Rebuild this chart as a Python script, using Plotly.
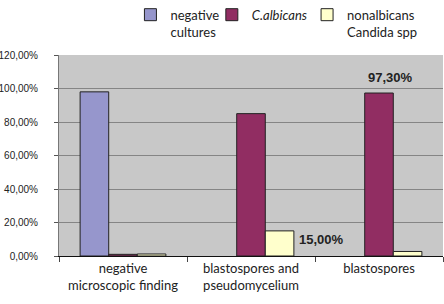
import plotly.graph_objects as go

categories = ["negative<br>microscopic finding", "blastospores and<br>pseudomycelium", "blastospores"]
negative_cultures = [98.0, None, None]
c_albicans = [1.0, 85.0, 97.3]
nonalbicans = [1.2, 15.0, 2.7]
series_names = ["negative<br>cultures", "<i>C.albicans</i>", "nonalbicans<br>Candida spp"]
tick_vals = [0, 20, 40, 60, 80, 100, 120]
tick_text = ["0,00%", "20,00%", "40,00%", "60,00%", "80,00%", "100,00%", "120,00%"]

colors = ["#9696cc", "#912d62", "#ffffcc"]
line = dict(color="#222222", width=1)
legend_ids = ["legend", "legend2", "legend3"]
legend_x = [0.186, 0.398, 0.646]

fig = go.Figure()
for name, vals, col, lid in zip(series_names, [negative_cultures, c_albicans, nonalbicans], colors, legend_ids):
    fig.add_trace(go.Bar(x=categories, y=vals, name=name, legend=lid,
                         marker=dict(color=col, line=line)))

fig.add_annotation(x=categories[2], y=c_albicans[2], text="<b>97,30%</b>", showarrow=False,
                   xshift=11, yshift=16, yanchor="middle",
                   font=dict(family="Liberation Sans", size=13, color="#222222"))
fig.add_annotation(x=categories[1], y=nonalbicans[1], text="<b>15,00%</b>", showarrow=False,
                   xanchor="left", xshift=46, yshift=-9, yanchor="middle",
                   font=dict(family="Liberation Sans", size=13, color="#222222"))

leg_common = dict(orientation="h", xanchor="left", y=1.275, yanchor="top", valign="top",
                  bgcolor="rgba(0,0,0,0)", font=dict(family="Lato", size=13, color="#222222"))

fig.update_layout(
    width=444, height=304,
    margin=dict(l=59, r=1, t=55, b=48, autoexpand=False),
    paper_bgcolor="white", plot_bgcolor="#c8c8c8",
    barmode="group", bargap=0.33, bargroupgap=0,
    font=dict(family="Lato", size=13, color="#222222"),
    legend=dict(x=legend_x[0], **leg_common),
    legend2=dict(x=legend_x[1], **leg_common),
    legend3=dict(x=legend_x[2], **leg_common),
    showlegend=True,
)
fig.update_xaxes(showgrid=False, tickson="boundaries", ticks="outside", ticklen=5,
                 tickcolor="#444444", showline=True, linecolor="#111111", linewidth=1,
                 automargin=False,
                 tickfont=dict(family="Lato", size=13, color="#222222"))
fig.update_yaxes(range=[0, 120], tickvals=tick_vals, ticktext=tick_text, showgrid=True,
                 gridcolor="#858585", gridwidth=1, ticks="outside", ticklen=4,
                 tickcolor="#555555", showline=True, linecolor="#777777", linewidth=1,
                 ticklabelstandoff=14, zeroline=False, automargin=False,
                 tickfont=dict(family="Liberation Sans", size=10, color="#222222"))

fig.write_html("out.html", config={"displayModeBar": False},
               post_script="document.body.style.margin='0';document.body.style.overflow='hidden';")
